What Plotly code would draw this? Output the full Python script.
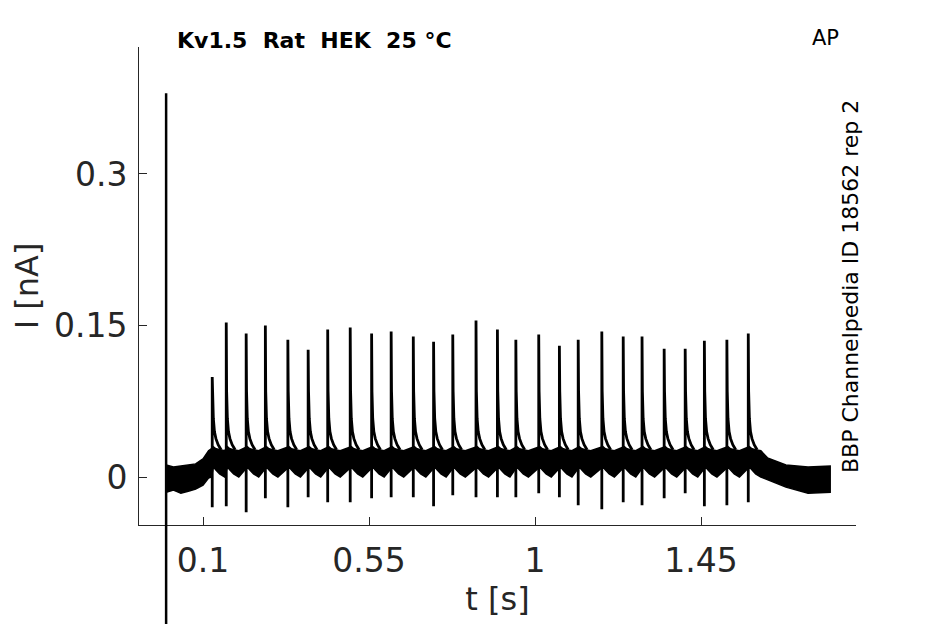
import plotly.graph_objects as go

# --- data (t in s, I in nA) ---
spike_t = [0.125, 0.163, 0.217, 0.269, 0.330, 0.385, 0.438, 0.499, 0.557,
           0.610, 0.670, 0.725, 0.777, 0.840, 0.898, 0.948, 1.010, 1.066,
           1.117, 1.181, 1.239, 1.290, 1.350, 1.407, 1.459, 1.520, 1.578]
spike_peak = [0.099, 0.153, 0.142, 0.150, 0.136, 0.126, 0.146, 0.148, 0.142,
              0.144, 0.139, 0.134, 0.141, 0.155, 0.146, 0.136, 0.141, 0.130,
              0.136, 0.144, 0.139, 0.139, 0.127, 0.127, 0.135, 0.136, 0.142]
spike_trough = [-0.030, -0.029, -0.035, -0.021, -0.030, -0.020, -0.025, -0.025,
                -0.021, -0.020, -0.020, -0.029, -0.018, -0.020, -0.020, -0.020,
                -0.016, -0.020, -0.028, -0.032, -0.025, -0.028, -0.021, -0.016,
                -0.029, -0.028, -0.025]

# decay after each spike peak
tail_dt = [0.001, 0.003, 0.006, 0.010, 0.016, 0.024]
tail_I = [0.085, 0.058, 0.045, 0.038, 0.032, 0.027]

# noise band between spikes (offsets from the preceding spike)
isi_dt = [0.003, 0.010, 0.020, 0.034]
isi_hi = [0.030, 0.028, 0.027, 0.026]
isi_lo = [0.010, 0.007, 0.003, 0.000]

# noise band before and after the spike train
pre_t = [0.0, 0.02, 0.04, 0.06, 0.08, 0.10, 0.115, 0.123]
pre_hi = [0.012, 0.010, 0.011, 0.012, 0.013, 0.018, 0.026, 0.028]
pre_lo = [-0.015, -0.013, -0.016, -0.014, -0.012, -0.008, -0.001, 0.000]
post_t = [1.63, 1.68, 1.74, 1.80]
post_hi = [0.019, 0.012, 0.010, 0.011]
post_lo = [-0.003, -0.010, -0.016, -0.015]

# stimulus artefact at t = 0 (runs off the bottom)
artefact_t = [0.0, 0.0]
artefact_I = [0.380, -0.400]

x_ticks = [0.1, 0.55, 1, 1.45]
x_labels = ["0.1", "0.55", "1", "1.45"]
y_ticks = [0, 0.15, 0.3]
y_labels = ["0", "0.15", "0.3"]

x_range = [-0.0735, 1.870]
y_range = [-0.0475, 0.4257]
y2_range = [-0.1535, 0.4257]

# page has an 8px body margin, so layout pixels = screen pixels - 8
OFF = 8
W, H = 945, 624
L, T = 139 - OFF, 47 - OFF
R = W - (856 - OFF)
plot_w = W - L - R
plot_h = H - T
y_bottom = (H - (525 - OFF)) / plot_h


def px(x):
    return (x - OFF - L) / plot_w


def py(y):
    return (H - (y - OFF)) / plot_h


AXC = "#262626"
FONT = "DejaVu Sans"

band_t, band_hi, band_lo = list(pre_t), list(pre_hi), list(pre_lo)
for t in spike_t:
    band_t += [t + d for d in isi_dt]
    band_hi += isi_hi
    band_lo += isi_lo
band_t += post_t
band_hi += post_hi
band_lo += post_lo

spk_x, spk_y = [], []
for t, pk, tr in zip(spike_t, spike_peak, spike_trough):
    spk_x += [t, t, t] + [t + d for d in tail_dt] + [None]
    spk_y += [tr, tr, pk] + tail_I + [None]

fig = go.Figure()
fig.add_trace(go.Scatter(
    x=band_t + band_t[::-1], y=band_hi + band_lo[::-1],
    fill="toself", fillcolor="black", mode="lines",
    line=dict(color="black", width=1.5), showlegend=False, hoverinfo="skip"))
fig.add_trace(go.Scatter(
    x=spk_x, y=spk_y, mode="lines",
    line=dict(color="black", width=2.8), showlegend=False))
fig.add_trace(go.Scatter(
    x=artefact_t, y=artefact_I, mode="lines", xaxis="x2", yaxis="y2",
    line=dict(color="black", width=2.5), showlegend=False))

fig.update_layout(
    width=W, height=H,
    margin=dict(l=L, r=R, t=T, b=0),
    paper_bgcolor="white", plot_bgcolor="rgba(0,0,0,0)",
    font=dict(family=FONT, color=AXC),
    xaxis=dict(range=x_range, domain=[0, 1], anchor="y",
               tickvals=x_ticks, ticktext=x_labels,
               ticks="inside", ticklen=8, tickcolor=AXC,
               showline=True, linecolor=AXC, linewidth=1,
               showgrid=False, zeroline=False,
               tickfont=dict(size=33, color=AXC), ticklabelstandoff=6,
               title=dict(text="t [s]", font=dict(size=32, color=AXC), standoff=4),
               automargin=False),
    yaxis=dict(range=y_range, domain=[y_bottom, 1], anchor="x",
               tickvals=y_ticks, ticktext=y_labels,
               ticks="inside", ticklen=8, tickcolor=AXC,
               showline=True, linecolor=AXC, linewidth=1,
               showgrid=False, zeroline=False,
               tickfont=dict(size=33, color=AXC), ticklabelstandoff=4,
               title=dict(text="I [nA]", font=dict(size=32, color=AXC), standoff=30),
               automargin=False),
    xaxis2=dict(range=x_range, domain=[0, 1], anchor="y2", visible=False),
    yaxis2=dict(range=y2_range, domain=[0, 1], anchor="x2", visible=False),
)

fig.add_annotation(x=px(175), y=py(40),
                   xref="paper", yref="paper", xanchor="left", yanchor="middle",
                   text="<b>Kv1.5\u00a0\u00a0Rat\u00a0\u00a0HEK\u00a0\u00a025\u00a0°C</b>",
                   showarrow=False, font=dict(size=22, color="black"))
fig.add_annotation(x=px(825), y=py(38),
                   xref="paper", yref="paper", xanchor="center", yanchor="middle",
                   text="AP", showarrow=False, font=dict(size=21, color="black"))
fig.add_annotation(x=px(850), y=py(287),
                   xref="paper", yref="paper", xanchor="center", yanchor="middle",
                   text="BBP Channelpedia ID 18562 rep 2", textangle=-90,
                   showarrow=False, font=dict(size=22, color="black"))

fig.write_html("out.html")
